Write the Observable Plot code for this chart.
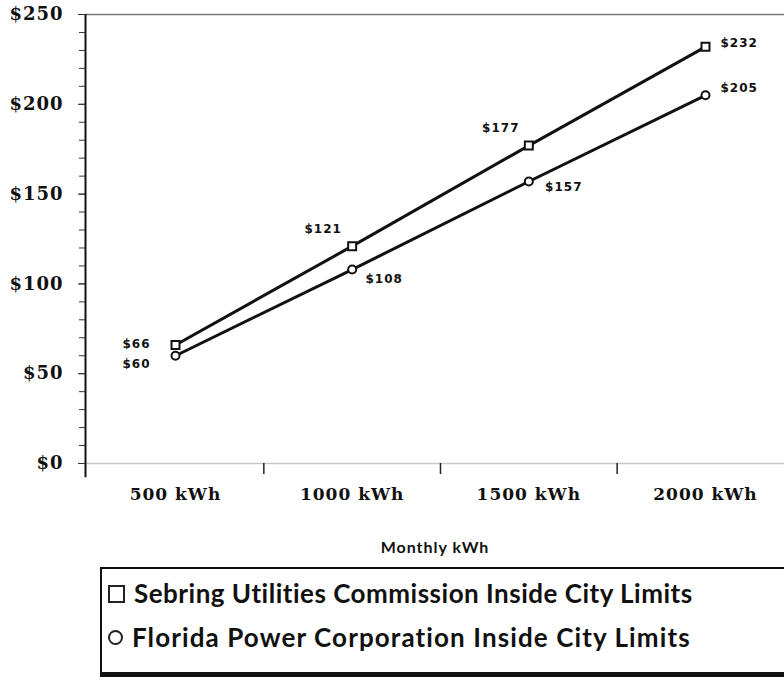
<!DOCTYPE html>
<html>
<head>
<meta charset="utf-8">
<script src="https://cdn.jsdelivr.net/npm/d3@7"></script>
<script src="https://cdn.jsdelivr.net/npm/@observablehq/plot@0.6"></script>
<style>
  html, body { margin: 0; padding: 0; background: #fff; overflow: hidden; width: 784px; height: 680px; }
  #wrap { position: relative; width: 784px; height: 680px; }
  #legend {
    position: absolute; left: 100px; top: 567px; width: 720px; height: 110px;
    border: 2px solid #111; border-bottom: 5px solid #111; box-sizing: border-box;
    font-family: Lato, "Open Sans", sans-serif; font-weight: 700; font-size: 26px; color: #111;
  }
  .row { position: absolute; left: 6px; white-space: nowrap; letter-spacing: 1.1px; line-height: 30px; }
  .row.first { letter-spacing: 0.5px; }
  .sq { display: inline-block; width: 13px; height: 14px; border: 2px solid #222; margin-right: 9px; vertical-align: 0px; }
  .ci { display: inline-block; width: 11px; height: 11px; border: 2px solid #222; border-radius: 50%; margin-right: 9px; vertical-align: 2px; }
</style>
</head>
<body>
<div id="wrap"></div>
<script>
// ---- data ----
const categories = [500, 1000, 1500, 2000];
const categoryLabels = ["500 kWh", "1000 kWh", "1500 kWh", "2000 kWh"];
const seriesNames = ["Sebring Utilities Commission Inside City Limits", "Florida Power Corporation Inside City Limits"];
const sebring = [66, 121, 177, 232];
const florida = [60, 108, 157, 205];
const yTicks = [0, 50, 100, 150, 200, 250];
const xLabel = "Monthly kWh";

const rows = [];
categories.forEach((c, i) => {
  rows.push({kwh: c, cost: sebring[i], series: seriesNames[0], idx: i});
  rows.push({kwh: c, cost: florida[i], series: seriesNames[1], idx: i});
});
const S = rows.filter(d => d.series === seriesNames[0]);
const F = rows.filter(d => d.series === seriesNames[1]);

// label placement (style only)
const sebOff = [{dx: -25, dy: -1, a: "end"}, {dx: -29, dy: -17, a: "middle"}, {dx: -28, dy: -17, a: "middle"}, {dx: 15, dy: -4, a: "start"}];
const floOff = [{dx: -25, dy: 8, a: "end"}, {dx: 32, dy: 10, a: "middle"}, {dx: 35, dy: 6, a: "middle"}, {dx: 15, dy: -7, a: "start"}];

const labelStyle = {fontFamily: "DejaVu Sans", fontWeight: "bold", fontSize: 12, fill: "#111", fontStretch: "condensed"};
const labelMarks = [];
S.forEach((d, i) => labelMarks.push(Plot.text([d], {x: "kwh", y: "cost", text: d => "$" + d.cost, dx: sebOff[i].dx, dy: sebOff[i].dy, textAnchor: sebOff[i].a, ...labelStyle})));
F.forEach((d, i) => labelMarks.push(Plot.text([d], {x: "kwh", y: "cost", text: d => "$" + d.cost, dx: floOff[i].dx, dy: floOff[i].dy, textAnchor: floOff[i].a, ...labelStyle})));

const chart = Plot.plot({
  width: 784,
  height: 560,
  marginLeft: 85,
  marginRight: 0,
  marginTop: 14,
  marginBottom: 97,
  style: {background: "#fff", color: "#111"},
  x: {type: "linear", domain: [245.3, 2223.6], label: null},
  y: {domain: [0, 250], label: null},
  marks: [
    Plot.ruleY([250], {stroke: "#777", strokeWidth: 1.5}),
    Plot.ruleY([0], {stroke: "#c8c8c8", strokeWidth: 1.5}),
    Plot.ruleX([245.3], {y1: 250, y2: -8, stroke: "#111", strokeWidth: 2}),
    // minor y ticks
    Plot.axisY({ticks: d3.range(0, 251, 10), tickSize: 6, tickFormat: () => "", label: null, stroke: "#333"}),
    // major y ticks + labels
    Plot.axisY({ticks: yTicks, tickSize: 7, tickPadding: 15, tickFormat: d => "$" + d, label: null,
      fontFamily: "DejaVu Serif", fontWeight: "bold", fontSize: 18, stroke: "#333"}),
    // x ticks between categories
    Plot.axisX({ticks: [750, 1250, 1750], tickSize: 11, tickFormat: () => "", label: null, stroke: "#222", strokeWidth: 1.5}),
    // x category labels
    Plot.axisX({ticks: categories, tickSize: 0, tickPadding: 24, tickFormat: (d) => categoryLabels[categories.indexOf(d)], label: null,
      fontFamily: "DejaVu Serif", fontWeight: "bold", fontSize: 17}),
    Plot.text([xLabel], {frameAnchor: "bottom", dy: 89, fontFamily: "Lato", fontWeight: "bold", fontSize: 16, fill: "#111"}),
    Plot.line(S, {x: "kwh", y: "cost", stroke: "#111", strokeWidth: 3}),
    Plot.line(F, {x: "kwh", y: "cost", stroke: "#111", strokeWidth: 3}),
    Plot.dot(S, {x: "kwh", y: "cost", symbol: "square", r: 4.5, stroke: "#111", fill: "#fff", strokeWidth: 2}),
    Plot.dot(F, {x: "kwh", y: "cost", symbol: "circle", r: 4, stroke: "#111", fill: "#fff", strokeWidth: 2}),
    ...labelMarks
  ]
});
document.getElementById("wrap").appendChild(chart);

// letter spacing tweaks (Plot text has no letterSpacing option)
const svg = d3.select(chart);
svg.selectAll('g[aria-label="x-axis tick label"] text').style("letter-spacing", "1px");
svg.selectAll('g[aria-label="y-axis tick label"] text').style("letter-spacing", "1px");
svg.selectAll('g[aria-label="text"] text').style("letter-spacing", "1px");

const legend = document.createElement("div");
legend.id = "legend";
legend.innerHTML =
  `<div class="row first" style="top:9px"><span class="sq"></span>${seriesNames[0]}</div>` +
  `<div class="row" style="top:53px"><span class="ci"></span>${seriesNames[1]}</div>`;
document.getElementById("wrap").appendChild(legend);
</script>
</body>
</html>
